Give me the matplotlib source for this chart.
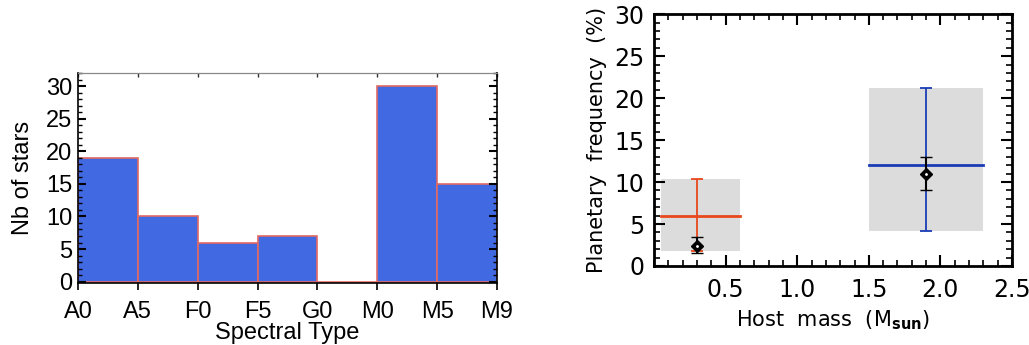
import matplotlib
matplotlib.use("Agg")
import matplotlib.pyplot as plt
from matplotlib.ticker import MultipleLocator, FixedLocator
import numpy as np

# left panel: histogram of spectral types
SPEC_LABELS = ["A0", "A5", "F0", "F5", "G0", "M0", "M5", "M9"]
N_STARS = [19, 10, 6, 7, 0, 30, 15]

# right panel: planetary frequency vs host mass
BOX_X = [(0.05, 0.6), (1.5, 2.3)]
BOX_Y = [(1.8, 10.4), (4.2, 21.2)]
FREQ = [6, 12]
FREQ_ERR_LO = [4.2, 7.8]
FREQ_ERR_HI = [4.4, 9.2]
ERR_X = [0.3, 1.9]
OBS_X = [0.3, 1.9]
OBS_Y = [2.4, 11.0]
OBS_LO = [0.8, 2.0]
OBS_HI = [1.0, 2.0]
COLORS = ["#e8481c", "#1a3db5"]


def left_panel(fig):
    ax = fig.add_axes([0.0758, 0.180, 0.4072, 0.608])
    x = np.arange(len(N_STARS))
    ax.bar(x, N_STARS, width=1, align="edge", color="#4169e1",
           edgecolor="#e06a64", linewidth=1.2)
    ax.set_xlim(0, len(SPEC_LABELS) - 1)
    ax.set_ylim(-0.2, 32)
    ax.set_xticks(range(len(SPEC_LABELS)))
    ax.set_xticklabels(SPEC_LABELS)
    ax.yaxis.set_major_locator(MultipleLocator(5))
    ax.yaxis.set_minor_locator(MultipleLocator(1))
    ax.tick_params(axis="x", direction="out", length=5, width=1.2,
                   labelsize=17, pad=8)
    ax.tick_params(axis="y", which="major", direction="in", length=6,
                   width=1.5, right=True, labelsize=17, pad=4)
    ax.tick_params(axis="y", which="minor", direction="in", length=3,
                   width=1, right=True)
    # short inward ticks on the grey top edge
    top = ax.secondary_xaxis("top")
    top.set_xticks(range(len(SPEC_LABELS)))
    top.tick_params(direction="in", length=3, width=1, labeltop=False,
                    color="#333333")
    top.spines["top"].set_color("#888888")
    top.spines["top"].set_linewidth(0.8)
    for s in ["left", "bottom", "right"]:
        ax.spines[s].set_linewidth(1.2)
    ax.spines["top"].set_color("#888888")
    ax.spines["top"].set_linewidth(0.8)
    ax.set_xlabel("Spectral Type", fontsize=17, labelpad=-1)
    ax.set_ylabel("Nb of stars", fontsize=17, labelpad=9)
    return ax


def right_panel(fig):
    ax = fig.add_axes([0.6356, 0.229, 0.3479, 0.730])
    for i in range(len(FREQ)):
        x0, x1 = BOX_X[i]
        y0, y1 = BOX_Y[i]
        ax.fill_between([x0, x1], y0, y1, color="#dcdcdc", lw=0, zorder=1)
        ax.plot([x0, x1], [FREQ[i], FREQ[i]], color=COLORS[i], lw=2, zorder=2)
        ax.errorbar([ERR_X[i]], [FREQ[i]],
                    yerr=[[FREQ_ERR_LO[i]], [FREQ_ERR_HI[i]]],
                    fmt="none", ecolor=COLORS[i], elinewidth=1.3,
                    capsize=4, capthick=1.3, zorder=3)
    ax.errorbar(OBS_X, OBS_Y, yerr=[OBS_LO, OBS_HI], fmt="D", color="black",
                mfc="black", mec="black", mew=1, ms=6, ecolor="black",
                elinewidth=1.5, capsize=4, capthick=1.5, zorder=4)
    ax.plot(OBS_X, OBS_Y, "o", color="white", ms=1, zorder=5)
    ax.set_xlim(0, 2.5)
    ax.set_ylim(0, 30)
    ax.xaxis.set_major_locator(FixedLocator([0.5, 1.0, 1.5, 2.0, 2.5]))
    ax.xaxis.set_minor_locator(MultipleLocator(0.1))
    ax.yaxis.set_major_locator(MultipleLocator(5))
    ax.yaxis.set_minor_locator(MultipleLocator(1))
    ax.set_xticklabels(["0.5", "1.0", "1.5", "2.0", "2.5"])
    ax.tick_params(which="major", direction="in", length=8, width=1.5,
                   top=True, right=True, labelsize=17)
    ax.tick_params(which="minor", direction="in", length=4, width=1.2,
                   top=True, right=True)
    ax.tick_params(axis="x", pad=9)
    ax.tick_params(axis="y", pad=7)
    for s in ax.spines.values():
        s.set_linewidth(2)
    ax.set_xlabel(r"Host  mass  (M$_{\mathbf{sun}}$)", fontsize=15, labelpad=4)
    ax.set_ylabel("Planetary  frequency  (%)", fontsize=15, labelpad=5)
    return ax


def main():
    plt.rcParams["font.family"] = ["Liberation Sans", "DejaVu Sans"]
    fig = plt.figure(figsize=(10.29, 3.45), dpi=100)
    left_panel(fig)
    plt.rcParams["font.family"] = ["DejaVu Sans"]
    right_panel(fig)
    fig.savefig("out.png", dpi=100)


if __name__ == "__main__":
    main()
